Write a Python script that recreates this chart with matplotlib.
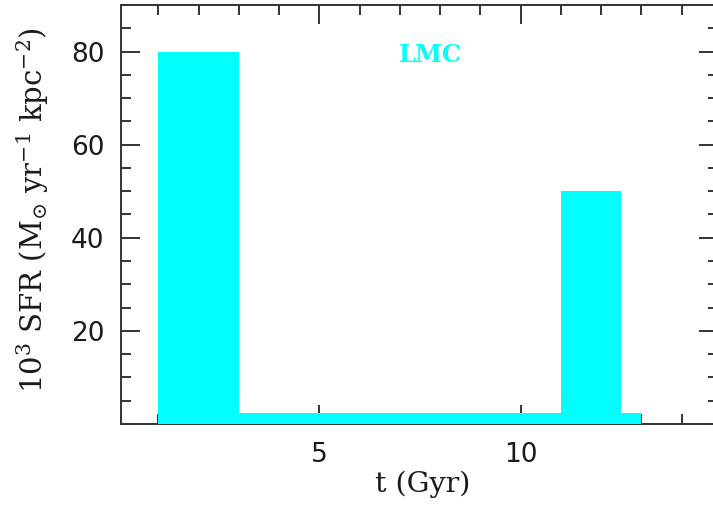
import numpy as np
import matplotlib
matplotlib.use('Agg')
import matplotlib.pyplot as plt
from matplotlib.ticker import MultipleLocator, FixedLocator

# Datos: historia de formacion estelar (LMC)
edges = [1.0, 3.0, 11.0, 12.5, 13.0]
sfr = [80.0, 2.3, 50.0, 2.3]
xticks = [5, 10]
yticks = [20, 40, 60, 80]

plt.rcParams['mathtext.fontset'] = 'dejavuserif'

fig = plt.figure(figsize=(7.13, 5.12), dpi=100)
ax = fig.add_axes([121 / 713, 1 - 424 / 512, 597 / 713, 419 / 512])

anchos = np.diff(edges)
ax.bar(edges[:-1], sfr, width=anchos, align='edge', color='#00ffff',
       linewidth=0, zorder=3)

ax.set_xlim(0.075, 14.9)
ax.set_ylim(0, 90)

ax.xaxis.set_major_locator(FixedLocator(xticks))
ax.xaxis.set_minor_locator(MultipleLocator(1))
ax.yaxis.set_major_locator(FixedLocator(yticks))
ax.yaxis.set_minor_locator(MultipleLocator(5))

ax.tick_params(which='both', direction='in', top=True, right=True,
               color='#333333', width=1.4, labelsize=19, labelcolor='#1a1a1a')
ax.tick_params(which='major', length=14)
ax.tick_params(which='minor', length=7.2)
ax.tick_params(axis='x', pad=13)
ax.tick_params(axis='y', pad=12)

for s in ax.spines.values():
    s.set_color('#333333')
    s.set_linewidth(1.4)

ax.set_xlabel('t (Gyr)', fontsize=20.5, family='DejaVu Serif', color='#1a1a1a')
ax.set_ylabel(r'10$^3$ SFR (M$_{\odot}$ yr$^{-1}$ kpc$^{-2}$)', fontsize=21,
              family='DejaVu Serif', color='#1a1a1a')
ax.xaxis.set_label_coords(0.505, -0.112)
ax.yaxis.set_label_coords(-0.118, 0.51)

ax.text(7.75, 79.3, 'LMC', color='#00ffff', fontsize=17.5, fontweight='bold',
        family='DejaVu Serif', ha='center', va='center')

plt.savefig('out.png', dpi=100)
